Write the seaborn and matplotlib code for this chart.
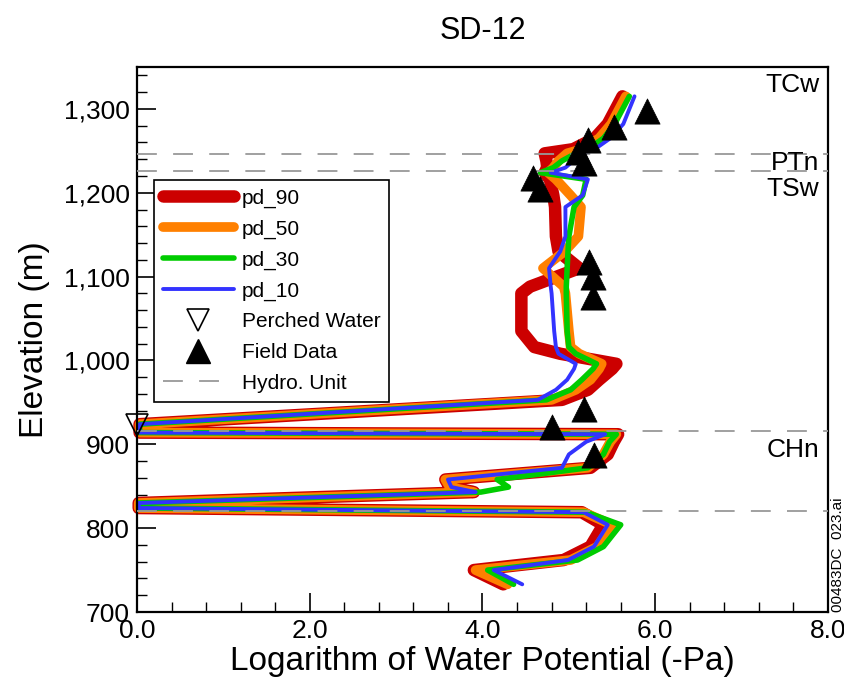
import matplotlib
matplotlib.use("Agg")
import numpy as np
import pandas as pd
import seaborn as sns
import matplotlib.pyplot as plt
from matplotlib.lines import Line2D
from matplotlib.ticker import MultipleLocator, FuncFormatter

# ---------------- data ----------------
ELEV = [1315, 1282, 1265, 1252, 1247, 1238, 1230, 1224, 1216, 1197, 1183, 1148,
        1130, 1110, 1088, 1080, 1035, 1016, 1008, 996, 990, 977, 965, 953,
        924, 914, 912, 903, 888, 872, 858, 849, 843, 830, 824, 819, 804, 778,
        762, 750, 733]

PD_90 = [5.62, 5.45, 5.30, 5.05, 4.72, 4.74, 4.75, 4.72, 4.78, 4.82, 4.84, 4.85,
         4.88, 5.12, 4.55, 4.45, 4.45, 4.60, 4.90, 5.55, 5.50, 5.35, 5.22, 4.92,
         0.03, 0.03, 5.57, 5.52, 5.45, 5.25, 3.57, 3.62, 3.90, 0.02, 0.02, 5.15,
         5.40, 5.25, 4.94, 3.90, 4.24]

PD_50 = [5.66, 5.49, 5.35, 5.15, 4.98, 4.88, 4.82, 4.76, 4.85, 5.02, 5.14, 5.11,
         4.95, 4.70, 4.94, 4.96, 5.00, 5.02, 5.12, 5.38, 5.35, 5.25, 5.08, 4.80,
         0.03, 0.03, 5.55, 5.48, 5.40, 5.22, 3.57, 3.62, 3.90, 0.02, 0.02, 5.17,
         5.50, 5.33, 5.02, 3.92, 4.29]

PD_30 = [5.70, 5.53, 5.40, 5.22, 5.08, 4.92, 4.82, 4.67, 5.20, 5.16, 5.06, 5.00,
         4.99, 4.98, 4.97, 4.97, 4.98, 5.00, 5.08, 5.32, 5.28, 5.15, 5.02, 4.74,
         0.03, 0.03, 5.55, 5.47, 5.40, 5.22, 4.17, 4.30, 3.98, 0.02, 0.02, 5.20,
         5.60, 5.40, 5.10, 4.06, 4.36]

PD_10 = [5.76, 5.63, 5.48, 5.30, 5.18, 5.05, 4.96, 4.79, 5.22, 5.16, 4.96, 4.96,
         4.90, 4.77, 4.79, 4.80, 4.83, 4.85, 4.88, 5.08, 5.06, 4.98, 4.85, 4.64,
         0.03, 0.03, 5.42, 5.20, 5.00, 4.92, 3.60, 3.64, 3.92, 0.02, 0.02, 5.17,
         5.45, 5.29, 4.99, 4.13, 4.46]

FIELD_X = [5.91, 5.52, 5.22, 5.11, 5.17, 4.59, 4.67, 5.23, 5.28, 5.28, 5.17, 4.80, 5.29]
FIELD_E = [1297, 1278, 1263, 1249, 1236, 1218, 1204, 1117, 1099, 1076, 942, 921, 887]

PERCHED_X = [0.0]
PERCHED_E = [923]

HYDRO_E = [1246, 1226, 916, 820]
UNIT_LABELS = ["TCw", "PTn", "TSw", "CHn"]
UNIT_LABEL_E = [1329, 1236, 1204, 893]

SERIES_NAMES = ["pd_90", "pd_50", "pd_30", "pd_10"]
SERIES_VALUES = [PD_90, PD_50, PD_30, PD_10]

# ---------------- style ----------------
COLORS = ["#cc0000", "#ff8000", "#00cc00", "#3333ff"]
WIDTHS = [9.0, 7.0, 4.0, 2.8]
HYDRO_COLOR = "#999999"
HYDRO_LS = (0, (11, 9))

sns.set_style("white")
plt.rcParams["font.family"] = ["Liberation Sans", "DejaVu Sans"]
plt.rcParams["text.color"] = "black"
plt.rcParams["axes.labelcolor"] = "black"
plt.rcParams["xtick.color"] = "black"
plt.rcParams["ytick.color"] = "black"

fig = plt.figure(figsize=(8.45, 6.8), dpi=100)
ax = fig.add_axes([137 / 845, 1 - 612 / 680, (828 - 137) / 845, (612 - 67) / 680])

for name, vals, c, lw in zip(SERIES_NAMES, SERIES_VALUES, COLORS, WIDTHS):
    df = pd.DataFrame({"x": vals, "elev": ELEV})
    sns.lineplot(data=df, x="x", y="elev", sort=False, estimator=None,
                 color=c, lw=lw, ax=ax, clip_on=False, zorder=2)

for e in HYDRO_E:
    ax.axhline(e, color=HYDRO_COLOR, lw=1.3, ls=HYDRO_LS, zorder=3)

sns.scatterplot(x=FIELD_X, y=FIELD_E, marker="^", s=330, color="black",
                edgecolor="black", linewidth=0.5, ax=ax, zorder=5, clip_on=False)
ax.plot(PERCHED_X, PERCHED_E, marker="v", ms=16, mfc="none", mec="black",
        mew=1.2, ls="none", clip_on=False, zorder=6)

ax.set_xlim(0, 8)
ax.set_ylim(700, 1350)
ax.xaxis.set_major_locator(MultipleLocator(2))
ax.xaxis.set_minor_locator(MultipleLocator(0.4))
ax.yaxis.set_major_locator(MultipleLocator(100))
ax.yaxis.set_minor_locator(MultipleLocator(20))
ax.xaxis.set_major_formatter(FuncFormatter(lambda v, p: f"{v:.1f}"))
ax.yaxis.set_major_formatter(FuncFormatter(lambda v, p: f"{int(round(v)):,}"))
ax.tick_params(which="both", direction="in", top=False, right=False,
               bottom=True, left=True, color="black", labelcolor="black")
ax.tick_params(which="major", length=14, width=1.2, labelsize=19, pad=5)
ax.tick_params(which="minor", length=7.5, width=1.0)
for sp in ax.spines.values():
    sp.set_linewidth(1.6)
    sp.set_color("black")

ax.set_xlabel("Logarithm of Water Potential (-Pa)", fontsize=24, labelpad=2, color="black")
ax.set_ylabel("Elevation (m)", fontsize=24, labelpad=10, color="black")
ax.set_title("SD-12", fontsize=22, pad=20, color="black")

for lab, e in zip(UNIT_LABELS, UNIT_LABEL_E):
    ax.text(7.9, e, lab, ha="right", va="center", fontsize=19, zorder=7, color="black")

fig.text(838 / 845, 1 - 612 / 680, "00483DC  023.ai", rotation=90,
         ha="center", va="bottom", fontsize=11, color="black")

handles = [Line2D([], [], color=c, lw=lw, solid_capstyle="round")
           for c, lw in zip(COLORS, WIDTHS)]
handles += [
    Line2D([], [], marker="v", ls="none", mfc="white", mec="black", mew=1.2, ms=16),
    Line2D([], [], marker="^", ls="none", mfc="black", mec="black", ms=17),
    Line2D([], [], color=HYDRO_COLOR, lw=1.3, ls=HYDRO_LS),
]
labels = SERIES_NAMES + ["Perched Water", "Field Data", "Hydro. Unit"]
leg = ax.legend(handles, labels, loc="upper left",
                bbox_to_anchor=((154 - 137) / 691, (612 - 180) / 545),
                borderaxespad=0, frameon=True, fancybox=False, framealpha=1,
                edgecolor="black", fontsize=15, handlelength=3.4,
                handletextpad=0.4, labelspacing=0.56, borderpad=0.42)
leg.get_frame().set_linewidth(1.2)
for t in leg.get_texts():
    t.set_color("black")
leg.set_zorder(8)

fig.savefig("out.png", dpi=100)
